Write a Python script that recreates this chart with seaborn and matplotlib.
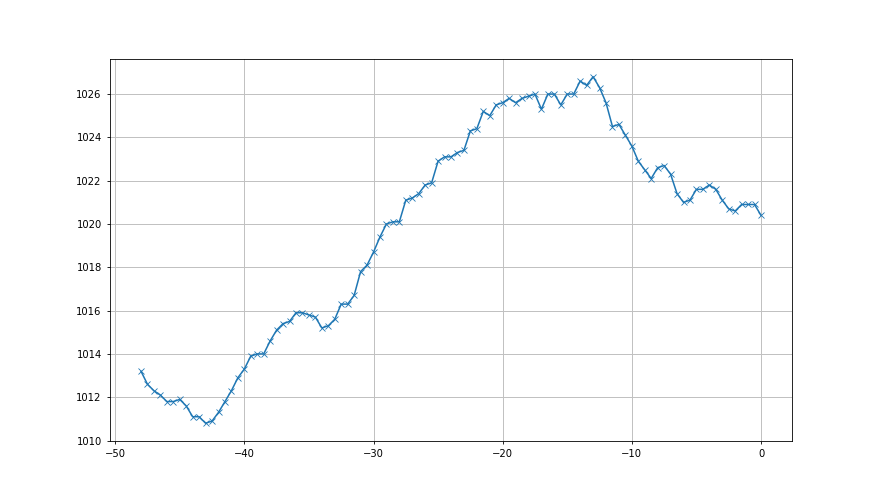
import numpy as np
import pandas as pd
import seaborn as sns
import matplotlib
matplotlib.use("Agg")
import matplotlib.pyplot as plt

# hours before now, one reading every half hour
hours = np.arange(-48, 0.5, 0.5)

pressure = [
    1013.2, 1012.6, 1012.3, 1012.1, 1011.8, 1011.8, 1011.9, 1011.6, 1011.1, 1011.1,
    1010.8, 1010.9, 1011.3, 1011.8, 1012.3, 1012.9, 1013.3, 1013.9, 1014.0, 1014.0,
    1014.6, 1015.1, 1015.4, 1015.5, 1015.9, 1015.9, 1015.8, 1015.7, 1015.2, 1015.3,
    1015.6, 1016.3, 1016.3, 1016.7, 1017.8, 1018.1, 1018.7, 1019.4, 1020.0, 1020.1,
    1020.1, 1021.1, 1021.2, 1021.4, 1021.8, 1021.9, 1022.9, 1023.1, 1023.1, 1023.3,
    1023.4, 1024.3, 1024.4, 1025.2, 1025.0, 1025.5, 1025.6, 1025.8, 1025.6, 1025.8,
    1025.9, 1026.0, 1025.3, 1026.0, 1026.0, 1025.5, 1026.0, 1026.0, 1026.6, 1026.4,
    1026.8, 1026.3, 1025.6, 1024.5, 1024.6, 1024.1, 1023.6, 1022.9, 1022.5, 1022.1,
    1022.6, 1022.7, 1022.3, 1021.4, 1021.0, 1021.1, 1021.6, 1021.6, 1021.8, 1021.6,
    1021.1, 1020.7, 1020.6, 1020.9, 1020.9, 1020.9, 1020.4,
]

df = pd.DataFrame({'hour': hours, 'pressure': pressure})

plt.rcParams['font.size'] = 7.2
fig, ax = plt.subplots(figsize=(8.8, 4.95), dpi=100)

sns.lineplot(data=df, x='hour', y='pressure', marker='x', color='tab:blue',
             linewidth=1.1, markersize=4, markeredgewidth=0.6,
             markeredgecolor='tab:blue', ax=ax)

ax.set_xlabel('')
ax.set_ylabel('')
ax.grid(True, color='#c0c0c0', linewidth=0.7)
ax.tick_params(length=2.5, width=0.6)
for s in ax.spines.values():
    s.set_linewidth(0.6)

fig.savefig('out.png', dpi=100)
